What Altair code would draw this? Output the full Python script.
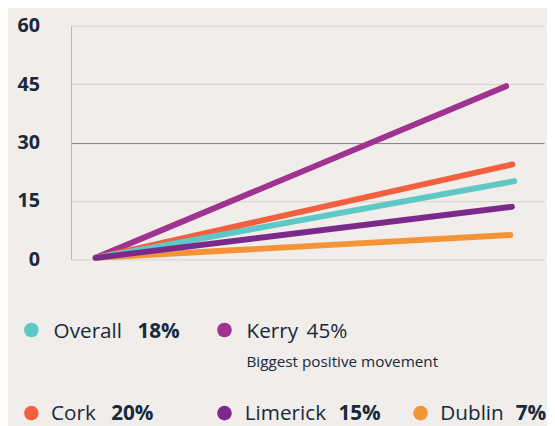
import altair as alt
import pandas as pd

# ---- data ----
series = ["Kerry", "Cork", "Overall", "Dublin", "Limerick"]
series_colors = ["#a0338f", "#f2603f", "#5ec8c4", "#f39437", "#7b2a8c"]
start_x = [0, 0, 0, 0, 0]
start_y = [0.4, 0.4, 0.4, 0.4, 0.4]
end_x = [0.98, 0.995, 1.0, 0.99, 0.994]
end_y = [44.5, 24.4, 20.1, 6.25, 13.5]

y_ticks = [0, 15, 30, 45, 60]

legend_names = ["Overall", "Kerry", "Cork", "Limerick", "Dublin"]
legend_pcts = ["18%", "45%", "20%", "15%", "7%"]
legend_note = ["", "Biggest positive movement", "", "", ""]

# ---- tables ----
rows = []
for s, x0, y0, x1, y1 in zip(series, start_x, start_y, end_x, end_y):
    rows.append({"series": s, "x": x0, "y": y0, "pt": 0})
    rows.append({"series": s, "x": x1, "y": y1, "pt": 1})
line_df = pd.DataFrame(rows)

legend_df = pd.DataFrame({"name": legend_names, "pct": legend_pcts, "note": legend_note})
color_of = dict(zip(series, series_colors))

TEXT = "#18293b"
FONT = "Open Sans"

lines = alt.Chart(line_df).mark_line(strokeWidth=6, strokeCap="round").encode(
    x=alt.X("x:Q", scale=alt.Scale(domain=[-0.0588, 1.0706], nice=False, zero=False), axis=None),
    y=alt.Y(
        "y:Q",
        scale=alt.Scale(domain=[0, 60], nice=False),
        axis=alt.Axis(
            values=y_ticks,
            title=None,
            grid=True,
            gridColor={"condition": {"test": "datum.value === 30", "value": "#7d7d7d"}, "value": "#d3d1cf"},
            gridWidth=1,
            domain=True,
            domainColor="#b8b6b4",
            ticks=False,
            labelFont=FONT,
            labelFontWeight="bold",
            labelFontSize=20,
            labelColor=TEXT,
            labelPadding=32,
        ),
    ),
    color=alt.Color("series:N", scale=alt.Scale(domain=series, range=series_colors), legend=None),
    order="pt:O",
)

# legend layout (positions in plot pixels)
ROW1_DOT, ROW1_TXT = 308.7, 316.3
ROW2_DOT, ROW2_TXT = 393.0, 399.7
layout = {
    "Overall": dict(cx=-40.3, cy=ROW1_DOT, tx=-17.7, px=67.3, ty=ROW1_TXT, bold=True),
    "Kerry": dict(cx=155.7, cy=ROW1_DOT, tx=178.0, px=239.0, ty=ROW1_TXT, bold=False),
    "Cork": dict(cx=-40.3, cy=ROW2_DOT, tx=-20.3, px=40.7, ty=ROW2_TXT, bold=True),
    "Limerick": dict(cx=155.7, cy=ROW2_DOT, tx=176.3, px=271.3, ty=ROW2_TXT, bold=True),
    "Dublin": dict(cx=354.7, cy=ROW2_DOT, tx=374.7, px=451.3, ty=ROW2_TXT, bold=True),
}

layers = [lines]
for name in legend_names:
    L = layout[name]
    base = alt.Chart(legend_df).transform_filter(alt.datum.name == name)
    layers.append(
        base.mark_circle(size=220, opacity=1).encode(
            x=alt.value(L["cx"]), y=alt.value(L["cy"]), color=alt.value(color_of[name])
        )
    )
    layers.append(
        base.mark_text(align="left", baseline="alphabetic", font=FONT, fontSize=21, color=TEXT).encode(
            x=alt.value(L["tx"]), y=alt.value(L["ty"]), text="name:N"
        )
    )
    layers.append(
        base.mark_text(
            align="left", baseline="alphabetic", font=FONT, fontSize=21, color=TEXT,
            fontWeight="bold" if L["bold"] else "normal",
        ).encode(x=alt.value(L["px"]), y=alt.value(L["ty"]), text="pct:N")
    )

note = alt.Chart(legend_df).transform_filter(alt.datum.note != "").mark_text(
    align="left", baseline="alphabetic", font=FONT, fontSize=15.5, color=TEXT
).encode(x=alt.value(178.0), y=alt.value(346.3), text="note:N")
layers.append(note)

chart = alt.layer(*layers).properties(
    width=480,
    height=237,
    autosize=alt.AutoSizeParams(type="none"),
    padding={"left": 64, "top": 15, "right": 3, "bottom": 166},
    background="#f0edea",
).configure_view(stroke=None)

chart.save("out.html", embed_options={"renderer": "svg", "actions": False})
